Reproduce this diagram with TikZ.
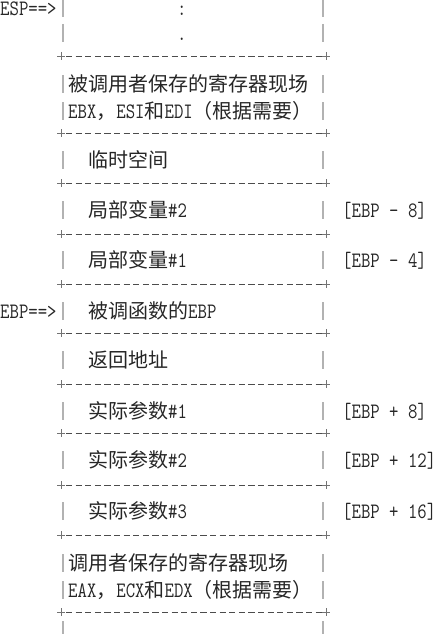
\documentclass[tikz,border=0pt]{standalone}
\usepackage{fontspec}
\newfontfamily\cjkfont{Noto Sans CJK SC}
\newfontfamily\monofont[FakeStretch=0.83]{Latin Modern Mono}
\newcommand\zh[1]{{\cjkfont\fontsize{20}{22}\selectfont #1}}
\newcommand\la[1]{{\monofont\fontsize{22}{24}\selectfont #1}}
\begin{document}
\begin{tikzpicture}[x=1pt,y=-1pt,
  bar/.style={draw=black!30, line width=1.2pt},
  sep/.style={draw=black!70, line width=0.9pt, dash pattern=on 6.2pt off 3.4pt},
  plus/.style={draw=black!55, line width=0.9pt},
  lbl/.style={anchor=base west, inner sep=0pt, text=black!85}]
\useasboundingbox (0,0) rectangle (442,634);
% separator lines (+-----+)
\foreach \y in {56,133,183,234,284,333,384,433,485,535,612} {
  \draw[sep] (66,\y) -- (322,\y);
  \draw[plus] (57,\y) -- (65,\y) (61,{\y-4}) -- (61,{\y+4});
  \draw[plus] (322,\y) -- (330,\y) (326,{\y-4}) -- (326,{\y+4});
}
% vertical bars (|)
\foreach \c in {8,33,84,111,160,210,260,311,360,411,460,511,563,590,630} {
  \draw[bar] (63,{\c-9}) -- (63,{\c+9});
  \draw[bar] (323,{\c-9}) -- (323,{\c+9});
}
% texts
\node[lbl] (esp) at (0,16) {\la{ESP==>}};
\node[lbl] (dotsA) at (177,16) {\la{:}};
\node[lbl] (dotsB) at (177,41) {\la{.}};
\node[lbl] (calleeA) at (68,91) {\zh{被调用者保存的寄存器现场}};
\node[lbl] (calleeB) at (68,118) {\la{EBX}\zh{，}\la{ESI}\zh{和}\la{EDI}\zh{（根据需要）}};
\node[lbl] (tmp) at (88,167) {\zh{临时空间}};
\node[lbl] (lvB) at (88,217) {\zh{局部变量}\la{\#2}};
\node[lbl] (lvBo) at (342,217) {\la{[EBP - 8]}};
\node[lbl] (lvA) at (88,267) {\zh{局部变量}\la{\#1}};
\node[lbl] (lvAo) at (342,267) {\la{[EBP - 4]}};
\node[lbl] (ebp) at (0,318) {\la{EBP==>}};
\node[lbl] (oldebp) at (88,318) {\zh{被调函数的}\la{EBP}};
\node[lbl] (ret) at (88,367) {\zh{返回地址}};
\node[lbl] (argA) at (88,418) {\zh{实际参数}\la{\#1}};
\node[lbl] (argAo) at (342,418) {\la{[EBP + 8]}};
\node[lbl] (argB) at (88,467) {\zh{实际参数}\la{\#2}};
\node[lbl] (argBo) at (342,467) {\la{[EBP + 12]}};
\node[lbl] (argC) at (88,518) {\zh{实际参数}\la{\#3}};
\node[lbl] (argCo) at (342,518) {\la{[EBP + 16]}};
\node[lbl] (callerA) at (68,570) {\zh{调用者保存的寄存器现场}};
\node[lbl] (callerB) at (68,597) {\la{EAX}\zh{，}\la{ECX}\zh{和}\la{EDX}\zh{（根据需要）}};
\end{tikzpicture}
\end{document}
